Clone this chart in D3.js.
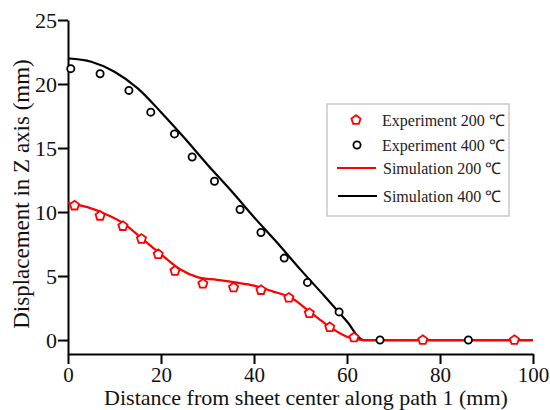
<!DOCTYPE html>
<html lang="en">
<head>
<meta charset="UTF-8">
<title>Displacement in Z axis</title>
<script src="https://d3js.org/d3.v7.min.js"></script>
<style>
  body { margin: 0; background: #fff; }
  svg text { font-family: "Liberation Serif", "Times New Roman", serif; }
</style>
</head>
<body>
<svg id="chart" width="550" height="410"></svg>
<script>
// measured points (x in mm, displacement in mm)
let exp200X = [1.4, 6.9, 11.8, 15.8, 19.4, 23, 29, 35.6, 41.5, 47.5, 51.9, 56.3, 61.5, 76.3, 96]
let exp200Y = [10.5, 9.7, 8.9, 7.9, 6.7, 5.4, 4.4, 4.1, 3.9, 3.3, 2.1, 1.0, 0.2, 0, 0]

let exp400X = [0.6, 6.9, 13.1, 17.8, 22.9, 26.7, 31.5, 37, 41.5, 46.5, 51.5, 58.3, 67.1, 86.1]
let exp400Y = [21.2, 20.8, 19.5, 17.8, 16.1, 14.3, 12.4, 10.2, 8.4, 6.4, 4.5, 2.2, 0, 0]

// simulation curves
let sim200X = [0, 4, 8, 12, 16, 20, 24, 28, 32, 36, 40, 44, 48, 52, 56, 60, 63.5, 70, 80, 90, 100]
let sim200Y = [10.7, 10.4, 9.85, 9.1, 7.9, 6.7, 5.55, 4.9, 4.7, 4.5, 4.25, 3.8, 3.3, 2.2, 1.1, 0.25, 0, 0, 0, 0, 0]

let sim400X = [0, 5, 10, 15, 20, 25, 30, 35, 40, 45, 50, 55, 60, 63.5, 70, 80, 90, 100]
let sim400Y = [22.0, 21.74, 20.96, 19.66, 17.8, 15.8, 13.7, 11.7, 9.6, 7.6, 5.5, 3.5, 1.45, 0, 0, 0, 0, 0]

let xTicks = [0, 20, 40, 60, 80, 100]
let yTicks = [0, 5, 10, 15, 20, 25]

let legendLabels = ["Experiment 200 \u2103", "Experiment 400 \u2103", "Simulation 200 \u2103", "Simulation 400 \u2103"]

let svg = d3.select('#chart')

let x = d3.scaleLinear().domain([0, 100]).range([68, 533])
let y = d3.scaleLinear().domain([-1.09, 25]).range([354, 20])

let zip = (xs, ys) => xs.map((v, i) => [v, ys[i]])

// pentagon marker, point up
let pentagon = (r) => {
    let pts = d3.range(5).map(i => {
        let a = -Math.PI / 2 + i * 2 * Math.PI / 5
        return [r * Math.cos(a), r * Math.sin(a)]
    })
    return 'M' + pts.map(p => p.join(',')).join('L') + 'Z'
}

// axes
let xAxis = svg.append('g')
    .attr('transform', 'translate(0,' + y(-1.09) + ')')
    .call(d3.axisBottom(x).tickValues(xTicks).tickSize(10).tickSizeOuter(0).tickPadding(3))
let yAxis = svg.append('g')
    .attr('transform', 'translate(' + x(0) + ',0)')
    .call(d3.axisLeft(y).tickValues(yTicks).tickSize(10).tickSizeOuter(0).tickPadding(1))

svg.selectAll('.domain, .tick line')
    .attr('stroke', '#000')
    .attr('stroke-width', 2)
svg.selectAll('.tick text')
    .attr('fill', '#111')
    .style('font-size', '21px')
yAxis.selectAll('.tick text').style('font-size', '22px')

// axis titles
svg.append('text')
    .attr('x', 306)
    .attr('y', 405)
    .attr('text-anchor', 'middle')
    .style('font-size', '22px')
    .attr('fill', '#111')
    .text('Distance from sheet center along path 1 (mm)')

svg.append('text')
    .attr('transform', 'translate(29,194) rotate(-90)')
    .attr('text-anchor', 'middle')
    .style('font-size', '23px')
    .attr('fill', '#111')
    .text('Displacement in Z axis (mm)')

// simulation lines
let line = d3.line()
    .x(d => x(d[0]))
    .y(d => y(d[1]))
    .curve(d3.curveMonotoneX)

svg.append('path')
    .datum(zip(sim400X, sim400Y))
    .attr('d', line)
    .attr('fill', 'none')
    .attr('stroke', '#000')
    .attr('stroke-width', 2.2)

svg.append('path')
    .datum(zip(sim200X, sim200Y))
    .attr('d', line)
    .attr('fill', 'none')
    .attr('stroke', '#ff0000')
    .attr('stroke-width', 2.2)

// experiment markers
svg.append('g').selectAll('circle')
    .data(zip(exp400X, exp400Y))
    .enter()
    .append('circle')
    .attr('cx', d => x(d[0]))
    .attr('cy', d => y(d[1]))
    .attr('r', 3.6)
    .attr('fill', '#fff')
    .attr('stroke', '#000')
    .attr('stroke-width', 1.8)

svg.append('g').selectAll('path')
    .data(zip(exp200X, exp200Y))
    .enter()
    .append('path')
    .attr('d', pentagon(4.8))
    .attr('transform', d => 'translate(' + x(d[0]) + ',' + y(d[1]) + ')')
    .attr('fill', '#fff')
    .attr('stroke', '#ff0000')
    .attr('stroke-width', 1.8)

// legend
let legend = svg.append('g')
legend.append('rect')
    .attr('x', 327).attr('y', 104)
    .attr('width', 182).attr('height', 112)
    .attr('fill', '#fff')
    .attr('stroke', '#bbb')
    .attr('stroke-width', 1.2)

let rowY = [120, 145, 168, 196]
legend.append('path')
    .attr('d', pentagon(4.8))
    .attr('transform', 'translate(356,' + rowY[0] + ')')
    .attr('fill', '#fff').attr('stroke', '#ff0000').attr('stroke-width', 1.8)
legend.append('circle')
    .attr('cx', 357).attr('cy', rowY[1]).attr('r', 3.6)
    .attr('fill', '#fff').attr('stroke', '#000').attr('stroke-width', 1.8)
legend.append('line')
    .attr('x1', 337).attr('x2', 376).attr('y1', rowY[2]).attr('y2', rowY[2])
    .attr('stroke', '#ff0000').attr('stroke-width', 2.2)
legend.append('line')
    .attr('x1', 338).attr('x2', 377).attr('y1', rowY[3]).attr('y2', rowY[3])
    .attr('stroke', '#000').attr('stroke-width', 2.2)

legend.selectAll('text.lab')
    .data(legendLabels)
    .enter()
    .append('text')
    .attr('class', 'lab')
    .attr('x', (d, i) => i < 2 ? 382 : 383)
    .attr('y', (d, i) => rowY[i])
    .attr('dy', '0.35em')
    .style('font-size', '16px')
    .attr('fill', '#222')
    .text(d => d)
</script>
</body>
</html>
